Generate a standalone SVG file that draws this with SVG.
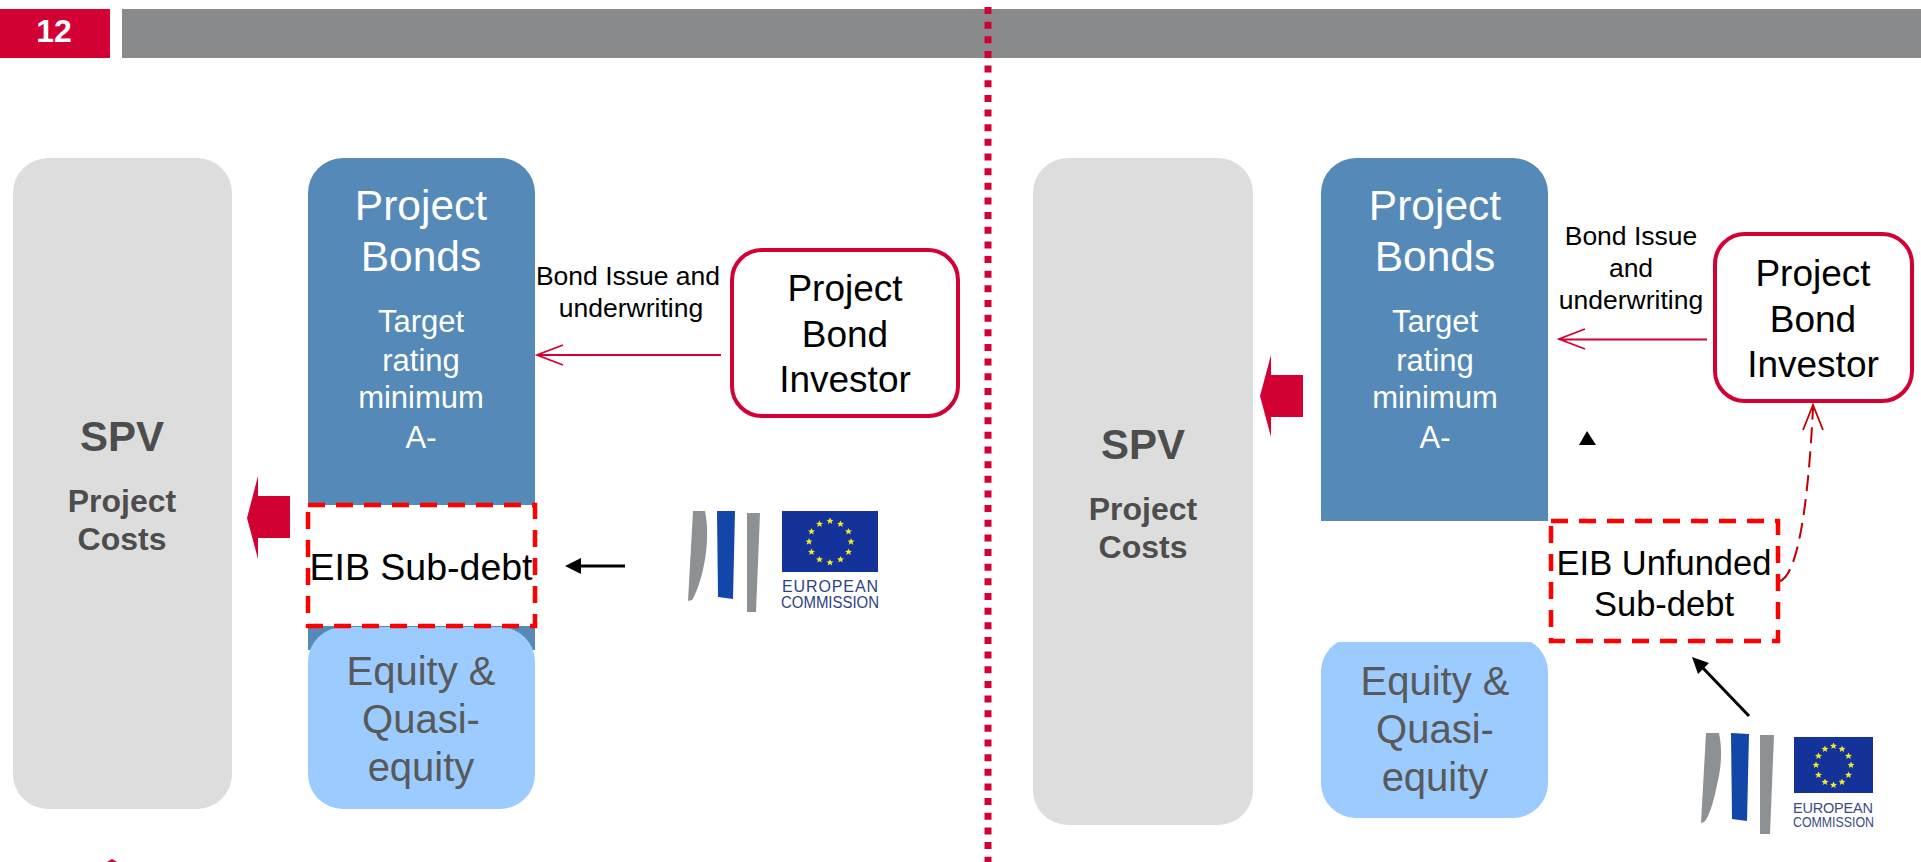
<svg xmlns="http://www.w3.org/2000/svg" width="1921" height="862" viewBox="0 0 1921 862">
<style>
text{font-family:"Liberation Sans",Arial,sans-serif;text-anchor:middle}
.spv{fill:#ddd}.blue{fill:#5489b8}.eq{fill:#9bcbff}
.t1{fill:#fff;font-size:42.500px}.t2{fill:#fff;font-size:31px}
.s1{fill:#4d4d4d;font-size:42px;font-weight:bold}.s2{fill:#4d4d4d;font-size:32px;font-weight:bold}
.e{fill:#595959;font-size:40px}
.inv{fill:#fff;stroke:#d20033;stroke-width:4}.it{fill:#000;font-size:37px}
.lab{fill:#000;font-size:26.500px}.eib{fill:#000;font-size:34.500px}.eib2{fill:#000;font-size:37.500px}
.dash{fill:#fff;stroke:#f00;stroke-width:4.500;stroke-dasharray:17 11}
.red{fill:#d20033}.rl{fill:none;stroke:#d20033;stroke-width:1.800}
.bk{fill:none;stroke:#000;stroke-width:3}
.g{fill:#8e9193}.b{fill:#1246a8}.flag{fill:#13329a}.st{fill:#f5e92c}
.eu{fill:#2c4285;text-anchor:start;font-size:16px}.eu2{fill:#3a4c88;text-anchor:start;font-size:14.500px}
.hd{fill:#fff;font-size:32px;font-weight:bold}
</style>
<defs>
<polygon id="star" points="0,-3.600 1,-1.200 3.500,-1.100 1.600,.5 2.200,3 0,1.600 -2.200,3 -1.600,.5 -3.500,-1.100 -1,-1.200" class="st"/>
</defs>

<g id="header">
<rect x="0" y="9" width="110" height="49" class="red"/>
<rect x="122" y="9" width="1799" height="49" fill="#898a8c"/>
<text x="54" y="42" class="hd">12</text>
</g>

<g id="left-spv"><rect x="13" y="158" width="219" height="651" rx="35" class="spv"/>
<text x="122" y="451" class="s1">SPV</text><text x="122" y="512" class="s2">Project</text><text x="122" y="550" class="s2">Costs</text></g>

<g id="left-bonds"><path d="M343 158H500a35 35 0 0 1 35 35V650H308V193a35 35 0 0 1 35-35Z" class="blue"/>
<text x="421" y="220" class="t1">Project</text><text x="421" y="271" class="t1">Bonds</text>
<text x="421" y="332" class="t2">Target</text><text x="421" y="371" class="t2">rating</text><text x="421" y="408" class="t2">minimum</text><text x="421" y="448" class="t2">A-</text></g>
<g id="left-equity"><rect x="308" y="627" width="227" height="182" rx="35" class="eq"/>
<text x="421" y="685" class="e">Equity &amp;</text><text x="421" y="733" class="e">Quasi-</text><text x="421" y="781" class="e">equity</text></g>
<g id="left-eib"><rect x="308" y="505" width="227" height="121" class="dash"/><text x="421" y="580" class="eib2">EIB Sub-debt</text></g>
<g id="left-investor"><rect x="732" y="250" width="226" height="166" rx="30" class="inv"/>
<text x="845" y="301" class="it">Project</text><text x="845" y="347" class="it">Bond</text><text x="845" y="392" class="it">Investor</text></g>
<g id="left-label"><text x="628" y="285" class="lab">Bond Issue and</text><text x="631" y="317" class="lab">underwriting</text></g>

<g id="right-spv"><rect x="1033" y="158" width="220" height="667" rx="35" class="spv"/>
<text x="1143" y="459" class="s1">SPV</text><text x="1143" y="520" class="s2">Project</text><text x="1143" y="558" class="s2">Costs</text></g>
<g id="right-bonds"><path d="M1356 158H1513a35 35 0 0 1 35 35V521H1321V193a35 35 0 0 1 35-35Z" class="blue"/>
<text x="1435" y="220" class="t1">Project</text><text x="1435" y="271" class="t1">Bonds</text>
<text x="1435" y="332" class="t2">Target</text><text x="1435" y="371" class="t2">rating</text><text x="1435" y="408" class="t2">minimum</text><text x="1435" y="448" class="t2">A-</text></g>
<g id="right-equity"><path d="M1338 642H1531A35 35 0 0 1 1548 672V783a35 35 0 0 1-35 35H1356a35 35 0 0 1-35-35V672A35 35 0 0 1 1338 642Z" class="eq"/>
<text x="1435" y="695" class="e">Equity &amp;</text><text x="1435" y="743" class="e">Quasi-</text><text x="1435" y="791" class="e">equity</text></g>
<g id="right-eib"><rect x="1551" y="521" width="227" height="120" class="dash"/><text x="1664" y="575" class="eib">EIB Unfunded</text><text x="1664" y="616" class="eib">Sub-debt</text></g>
<g id="right-investor"><rect x="1715" y="234" width="197" height="167" rx="30" class="inv"/>
<text x="1813" y="286" class="it">Project</text><text x="1813" y="332" class="it">Bond</text><text x="1813" y="377" class="it">Investor</text></g>
<g id="right-label"><text x="1631" y="245" class="lab">Bond Issue</text><text x="1631" y="277" class="lab">and</text><text x="1631" y="309" class="lab">underwriting</text></g>

<g id="connectors">
<path d="M247 518L258 476V496H290V538H258V559Z" class="red"/>
<path d="M1260 396L1271 355V375H1303V417H1271V437Z" class="red"/>
<path d="M721 355H537M563 345L537 355L563 365" class="rl"/>
<path d="M1707 339.500H1559M1585 329L1559 339L1585 349" class="rl"/>
<path d="M625 566H581" class="bk"/><path d="M565 566L581 558V574Z"/>
<path d="M1749 716L1702 667" class="bk"/><path d="M1692 657L1709 663L1698 674Z"/>
<path d="M1780 581C1797 575 1808 510 1813 408" fill="none" stroke="#c00000" stroke-width="2" stroke-dasharray="16 8"/>
<path d="M1803 430L1813 405L1823 430" fill="none" stroke="#c00000" stroke-width="1.800"/>
</g>

<g id="marks">
<path d="M1587 431L1596 445H1579Z"/>
<path d="M112 859L117 862H107Z" class="red"/>
</g>
<line id="divider" x1="988" y1="7" x2="988" y2="862" stroke="#d20033" stroke-width="7" stroke-dasharray="7 7.650"/>

<g id="logo-left">
<path d="M693 511H705C708 525 708 545 704 565C701 580 696 594 692 600L688 601Z" class="g"/>
<path d="M717 511L735 511L733 599L718 597Z" class="b"/>
<path d="M747 513H760L756 612H747Z" class="g"/>
<rect x="782" y="511" width="96" height="61" class="flag"/>
<use href="#star" x="830" y="521"/><use href="#star" x="840.500" y="524"/><use href="#star" x="848.500" y="531.500"/><use href="#star" x="851" y="541.700"/><use href="#star" x="848.500" y="552"/><use href="#star" x="840.500" y="559.500"/><use href="#star" x="830" y="562.500"/><use href="#star" x="819.500" y="559.500"/><use href="#star" x="811.500" y="552"/><use href="#star" x="809" y="541.700"/><use href="#star" x="811.500" y="531.500"/><use href="#star" x="819.500" y="524"/>
<text x="782" y="592" class="eu" textLength="96">EUROPEAN</text>
<text x="781" y="608" class="eu" textLength="98" lengthAdjust="spacingAndGlyphs">COMMISSION</text>
</g>
<g id="logo-right">
<path d="M1706 733H1719C1722 747 1722 765 1717 785C1714 800 1709 818 1704 822L1701 823Z" class="g"/>
<path d="M1731 733L1749 734L1747 821L1732 819Z" class="b"/>
<path d="M1760 735H1774L1770 834H1760Z" class="g"/>
<rect x="1794" y="737" width="79" height="56" class="flag"/>
<use href="#star" x="1833.500" y="746"/><use href="#star" x="1842" y="749"/><use href="#star" x="1848.500" y="756"/><use href="#star" x="1851" y="765"/><use href="#star" x="1848.500" y="775"/><use href="#star" x="1842" y="782"/><use href="#star" x="1833.500" y="785"/><use href="#star" x="1825" y="782"/><use href="#star" x="1818.500" y="775"/><use href="#star" x="1816" y="765"/><use href="#star" x="1818.500" y="756"/><use href="#star" x="1825" y="749"/>
<text x="1793" y="813" class="eu2" textLength="80">EUROPEAN</text>
<text x="1793" y="827" class="eu2" textLength="81" lengthAdjust="spacingAndGlyphs">COMMISSION</text>
</g>
</svg>
